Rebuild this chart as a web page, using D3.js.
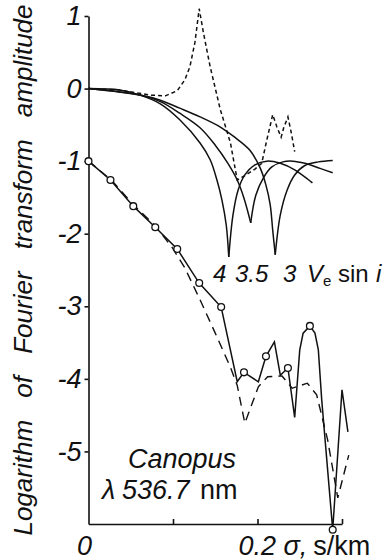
<!DOCTYPE html>
<html><head><meta charset="utf-8">
<script src="https://cdn.jsdelivr.net/npm/d3@7"></script>
<style>
html,body{margin:0;padding:0;background:#fff;}
svg{display:block;font-family:"Liberation Sans",Arial,Helvetica,sans-serif;}
</style></head><body>
<svg id="chart" width="388" height="560"></svg>
<script>
// ---------- data ----------
const yTickValues = [1, 0, -1, -2, -3, -4, -5];
const xTickValues = [0.1, 0.2, 0.3];
const velocityLabels = ["4", "3.5", "3"];

// rotational-broadening transforms, Ve sin i = 4, 3.5, 3 km/s (main lobe + side lobe)
const rot4MainSigma = [0, 0.037, 0.061, 0.085, 0.108, 0.132, 0.144, 0.152, 0.158, 0.163, 0.166];
const rot4MainLog   = [0, -0.02, -0.09, -0.21, -0.43, -0.75, -0.98, -1.26, -1.54, -1.88, -2.32];
const rot4SideSigma = [0.166, 0.171, 0.177, 0.185, 0.197, 0.211, 0.227, 0.244, 0.265];
const rot4SideLog   = [-2.32, -1.74, -1.40, -1.19, -1.05, -1.00, -1.03, -1.12, -1.30];

const rot35MainSigma = [0, 0.061, 0.085, 0.108, 0.132, 0.150, 0.165, 0.176, 0.184, 0.192];
const rot35MainLog   = [0, -0.09, -0.18, -0.34, -0.54, -0.78, -1.03, -1.26, -1.51, -1.85];
const rot35SideSigma = [0.192, 0.198, 0.207, 0.217, 0.230, 0.242, 0.256, 0.274, 0.289];
const rot35SideLog   = [-1.85, -1.47, -1.23, -1.08, -1.01, -1.00, -1.03, -1.10, -1.16];

const rot3MainSigma = [0, 0.061, 0.085, 0.108, 0.132, 0.156, 0.173, 0.191, 0.203, 0.210, 0.215, 0.218, 0.221];
const rot3MainLog   = [0, -0.09, -0.16, -0.27, -0.39, -0.53, -0.67, -0.85, -1.09, -1.33, -1.60, -1.95, -2.29];
const rot3SideSigma = [0.221, 0.227, 0.235, 0.244, 0.256, 0.272, 0.289];
const rot3SideLog   = [-2.29, -1.74, -1.40, -1.19, -1.06, -1.01, -0.99];

// upper dashed curve
const ratioSigma = [0, 0.037, 0.073, 0.091, 0.105, 0.114, 0.120, 0.126, 0.131, 0.136, 0.144, 0.156, 0.168, 0.176, 0.185, 0.197, 0.205, 0.211, 0.218, 0.223, 0.228, 0.231, 0.236, 0.240, 0.244];
const ratioLog   = [0, -0.02, -0.09, -0.10, -0.03, 0.12, 0.30, 0.64, 1.10, 0.77, 0.30, -0.29, -0.75, -1.26, -1.20, -1.11, -1.03, -0.71, -0.36, -0.53, -0.67, -0.54, -0.39, -0.61, -0.87];

// observed transform (solid, circles on measured points)
const obsSigma = [0, 0.026, 0.053, 0.079, 0.105, 0.131, 0.157, 0.176, 0.184, 0.189, 0.201, 0.210, 0.220, 0.227, 0.236, 0.244, 0.250, 0.254, 0.262, 0.268, 0.272, 0.276, 0.289, 0.300, 0.307];
const obsLog   = [-1.00, -1.26, -1.62, -1.91, -2.21, -2.68, -3.01, -4.04, -3.91, -3.95, -4.04, -3.69, -3.49, -3.95, -3.85, -4.53, -3.60, -3.37, -3.27, -3.37, -3.60, -4.29, -6.08, -4.15, -4.73];
const obsCircled = [1, 1, 1, 1, 1, 1, 1, 0, 1, 0, 0, 1, 0, 0, 1, 0, 0, 0, 1, 0, 0, 0, 1, 0, 0];

// model transform (long dashes)
const modelSigma = [0, 0.027, 0.053, 0.079, 0.099, 0.114, 0.132, 0.150, 0.168, 0.176, 0.185, 0.201, 0.212, 0.229, 0.241, 0.259, 0.270, 0.283, 0.295, 0.308];
const modelLog   = [-1.00, -1.26, -1.60, -1.89, -2.19, -2.47, -2.91, -3.37, -3.84, -4.09, -4.61, -4.11, -3.97, -3.96, -4.13, -4.06, -4.22, -4.84, -5.64, -5.05];

// ---------- drawing ----------
const svg = d3.select("#chart");
const x = d3.scaleLinear().domain([0, 0.3]).range([88.5, 342]);
const y = d3.scaleLinear().domain([-6, 1]).range([524, 16]);

const zip = (a, b) => a.map((s, i) => [s, b[i]]);
const smooth = d3.line().x(d => x(d[0])).y(d => y(d[1])).curve(d3.curveCatmullRom.alpha(0.5));
const straight = d3.line().x(d => x(d[0])).y(d => y(d[1]));

// axes
const yAxis = d3.axisLeft(y).tickValues(yTickValues).tickSizeInner(4).tickSizeOuter(0)
  .tickPadding(3).tickFormat(d => String(d));
const gy = svg.append("g").attr("transform", `translate(${x(0)},0)`).call(yAxis);
gy.selectAll("text").attr("font-size", 27).attr("font-style", "italic")
  .attr("font-family", '"Liberation Sans",Arial,sans-serif').attr("fill", "#111");

const xAxis = d3.axisBottom(x).tickValues(xTickValues).tickSizeInner(-5).tickSizeOuter(0).tickFormat("");
svg.append("g").attr("transform", `translate(0,${y(-6)})`).call(xAxis);
svg.selectAll(".domain, .tick line").attr("stroke", "#111").attr("stroke-width", 1.6);

// top solid curves
const lobes = [
  zip(rot4MainSigma, rot4MainLog), zip(rot4SideSigma, rot4SideLog),
  zip(rot35MainSigma, rot35MainLog), zip(rot35SideSigma, rot35SideLog),
  zip(rot3MainSigma, rot3MainLog), zip(rot3SideSigma, rot3SideLog)
];
svg.append("g").selectAll("path").data(lobes).join("path")
  .attr("d", smooth).attr("fill", "none").attr("stroke", "#111").attr("stroke-width", 1.5);

// top dashed
svg.append("path").attr("d", straight(zip(ratioSigma, ratioLog)))
  .attr("fill", "none").attr("stroke", "#111").attr("stroke-width", 1.5)
  .attr("stroke-dasharray", "4,3");

// model dashed
svg.append("path").attr("d", straight(zip(modelSigma, modelLog)))
  .attr("fill", "none").attr("stroke", "#111").attr("stroke-width", 1.4)
  .attr("stroke-dasharray", "9,6");

// observed
const obs = zip(obsSigma, obsLog);
svg.append("path").attr("d", straight(obs))
  .attr("fill", "none").attr("stroke", "#111").attr("stroke-width", 1.5);
svg.append("g").selectAll("circle").data(obs.filter((d, i) => obsCircled[i])).join("circle")
  .attr("cx", d => x(d[0])).attr("cy", d => y(d[1])).attr("r", 3.4)
  .attr("fill", "#fff").attr("stroke", "#111").attr("stroke-width", 1.3);

// texts
const font = '"Liberation Sans",Arial,sans-serif';
svg.append("text").attr("transform", "translate(32,270) rotate(-90)")
  .attr("text-anchor", "middle").attr("font-size", 26).attr("font-style", "italic")
  .attr("word-spacing", 15).attr("fill", "#111").attr("font-family", font)
  .text("Logarithm of Fourier transform amplitude");

svg.append("text").attr("x", x(0) - 4).attr("y", 555).attr("text-anchor", "middle")
  .attr("font-size", 27).attr("font-style", "italic").attr("fill", "#111").attr("font-family", font).text("0");

const xl = svg.append("text").attr("x", x(0.2) - 19).attr("y", 555).attr("font-size", 27)
  .attr("fill", "#111").attr("font-family", font);
xl.append("tspan").attr("font-style", "italic").text("0.2 σ,");
xl.append("tspan").attr("dx", 6).text("s/km");

const vl = svg.append("text").attr("y", 282).attr("font-size", 24).attr("fill", "#111").attr("font-family", font);
const vx = [213, 235, 283];
velocityLabels.forEach((t, i) => vl.append("tspan").attr("x", vx[i]).attr("font-style", "italic").text(t));
vl.append("tspan").attr("x", 307).attr("font-style", "italic").text("V");
vl.append("tspan").attr("font-size", 15).attr("dy", 4).text("e");
vl.append("tspan").attr("x", 338).attr("dy", -4).text("sin");
vl.append("tspan").attr("x", 376).attr("font-style", "italic").text("i");

svg.append("text").attr("x", 128).attr("y", 468).attr("font-size", 27).attr("font-style", "italic")
  .attr("fill", "#111").attr("font-family", font).text("Canopus");
const ll = svg.append("text").attr("y", 499).attr("font-size", 27).attr("fill", "#111").attr("font-family", font);
ll.append("tspan").attr("x", 102).attr("font-style", "italic").text("λ");
ll.append("tspan").attr("x", 122).attr("font-style", "italic").text("536.7");
ll.append("tspan").attr("x", 200).text("nm");
</script>
</body></html>
